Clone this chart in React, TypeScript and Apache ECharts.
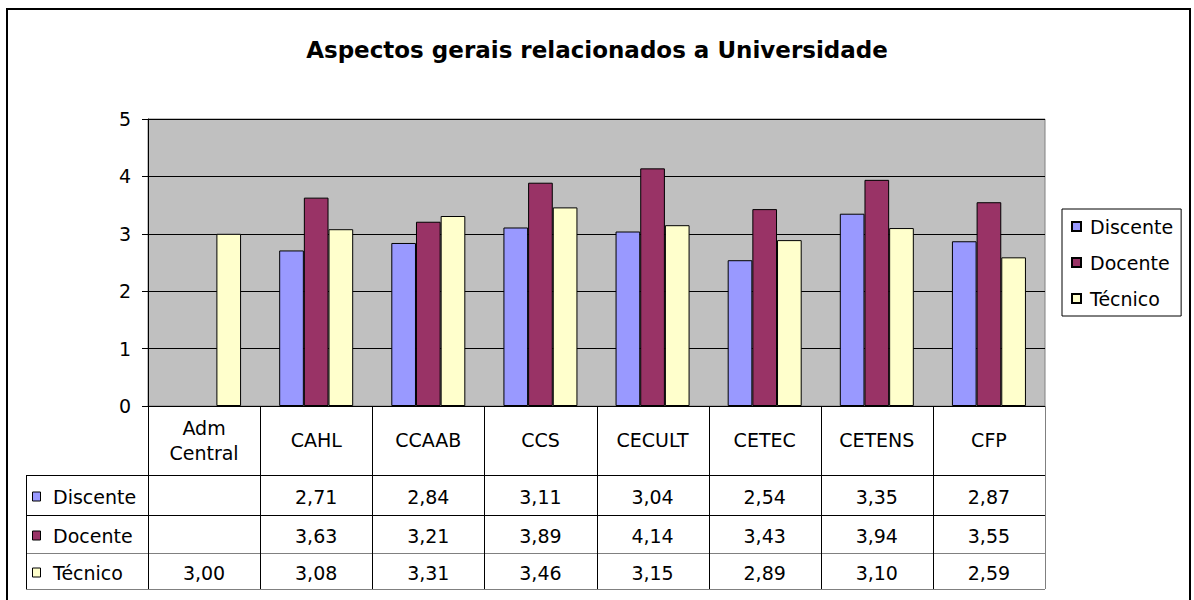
import React, { useEffect, useRef } from "react";
import * as echarts from "echarts";

const categories = ["Adm\nCentral", "CAHL", "CCAAB", "CCS", "CECULT", "CETEC", "CETENS", "CFP"];
const seriesNames = ["Discente", "Docente", "Técnico"];
const discente: (number | null)[] = [null, 2.71, 2.84, 3.11, 3.04, 2.54, 3.35, 2.87];
const docente: (number | null)[] = [null, 3.63, 3.21, 3.89, 4.14, 3.43, 3.94, 3.55];
const tecnico: (number | null)[] = [3.0, 3.08, 3.31, 3.46, 3.15, 2.89, 3.1, 2.59];
const yTicks = [0, 1, 2, 3, 4, 5];
const colors = ["#9999FF", "#993366", "#FFFFCC"];
const titleText = "Aspectos gerais relacionados a Universidade";

const FONT = "'DejaVu Sans', sans-serif";
const FS = 19;

export default function App() {
  const ref = useRef<HTMLDivElement>(null);
  useEffect(() => {
    if (!ref.current) return;
    const chart = echarts.init(ref.current, undefined, { renderer: "svg" });

    const gridL = 148, gridT = 119, gridW = 897, gridH = 287;
    const gridR = gridL + gridW;
    const gridB = gridT + gridH;
    const catW = gridW / categories.length;
    const tableL = 26;
    const rowY = [475, 515, 553, 589];
    const allSeries = [discente, docente, tecnico];

    const graphics: any[] = [];
    graphics.push({
      type: "rect",
      shape: { x: 7, y: 9, width: 1183, height: 600 },
      style: { fill: "none", stroke: "#000", lineWidth: 2 },
      silent: true,
    });
    const line = (x1: number, y1: number, x2: number, y2: number, c = "#000") =>
      graphics.push({
        type: "line",
        shape: { x1, y1, x2, y2 },
        style: { stroke: c, lineWidth: 1 },
        silent: true,
        z: 100,
      });
    const rowColors = ["#000", "#000", "#808080", "#808080"];
    rowY.forEach((y, k) => line(tableL, y + 0.5, gridR, y + 0.5, rowColors[k]));
    line(tableL + 0.5, rowY[0], tableL + 0.5, rowY[3]);
    for (let i = 0; i <= categories.length; i++) {
      const x = Math.round(gridL + catW * i) + 0.5;
      line(x, gridB, x, rowY[3], i === categories.length ? "#808080" : "#000");
    }
    seriesNames.forEach((name, r) => {
      const cy = (rowY[r] + rowY[r + 1]) / 2 + 2;
      graphics.push({
        type: "rect",
        shape: { x: 32.5, y: cy - 5, width: 8, height: 9 },
        style: { fill: colors[r], stroke: "#000", lineWidth: 1 },
        silent: true,
        z: 100,
      });
      graphics.push({
        type: "text",
        x: 53,
        y: cy,
        style: { text: name, font: `${FS}px ${FONT}`, fill: "#000", verticalAlign: "middle", align: "left" },
        silent: true,
        z: 100,
      });
      allSeries[r].forEach((v, i) => {
        if (v == null) return;
        graphics.push({
          type: "text",
          x: gridL + catW * (i + 0.5),
          y: cy,
          style: {
            text: v.toFixed(2).replace(".", ","),
            font: `${FS}px ${FONT}`,
            fill: "#000",
            align: "center",
            verticalAlign: "middle",
          },
          silent: true,
          z: 100,
        });
      });
    });

    chart.setOption({
      animation: false,
      backgroundColor: "#fff",
      title: {
        text: titleText,
        left: "center",
        top: 33,
        textStyle: { fontFamily: FONT, fontSize: 23, fontWeight: "bold", color: "#000" },
      },
      legend: {
        orient: "vertical",
        left: 1062,
        top: 209,
        padding: [8, 8, 8, 9],
        itemWidth: 9,
        itemHeight: 9,
        itemGap: 17,
        borderColor: "#000",
        borderWidth: 1,
        icon: "rect",
        textStyle: { fontFamily: FONT, fontSize: FS, color: "#000", padding: [0, 0, 0, 4] },
        data: seriesNames,
      },
      grid: {
        left: gridL,
        top: gridT,
        width: gridW,
        height: gridH,
        show: true,
        backgroundColor: "#C0C0C0",
        borderColor: "#808080",
        borderWidth: 1,
        containLabel: false,
      },
      xAxis: {
        type: "category",
        data: categories,
        axisLine: { show: true, lineStyle: { color: "#000", width: 1 } },
        axisTick: { show: false },
        axisLabel: {
          margin: 34,
          verticalAlign: "middle",
          lineHeight: 25,
          fontFamily: FONT,
          fontSize: FS,
          color: "#000",
          interval: 0,
        },
      },
      yAxis: {
        type: "value",
        min: yTicks[0],
        max: yTicks[yTicks.length - 1],
        interval: 1,
        axisLine: { show: true, lineStyle: { color: "#000", width: 1 } },
        axisTick: { show: true, inside: false, length: 6, lineStyle: { color: "#000" } },
        axisLabel: { margin: 17, fontFamily: FONT, fontSize: FS, color: "#000" },
        splitLine: { show: true, lineStyle: { color: "#000", width: 1 } },
      },
      series: seriesNames.map((name, r) => ({
        name,
        type: "bar",
        data: allSeries[r].map((v) => (v == null ? "-" : v)),
        barGap: "0%",
        barCategoryGap: "34%",
        itemStyle: { color: colors[r], borderColor: "#000", borderWidth: 1 },
      })),
      graphic: graphics,
    });
    return () => chart.dispose();
  }, []);
  return (
    <div
      ref={ref}
      style={{ position: "fixed", left: 0, top: 0, width: 1194, height: 600 }}
    />
  );
}
